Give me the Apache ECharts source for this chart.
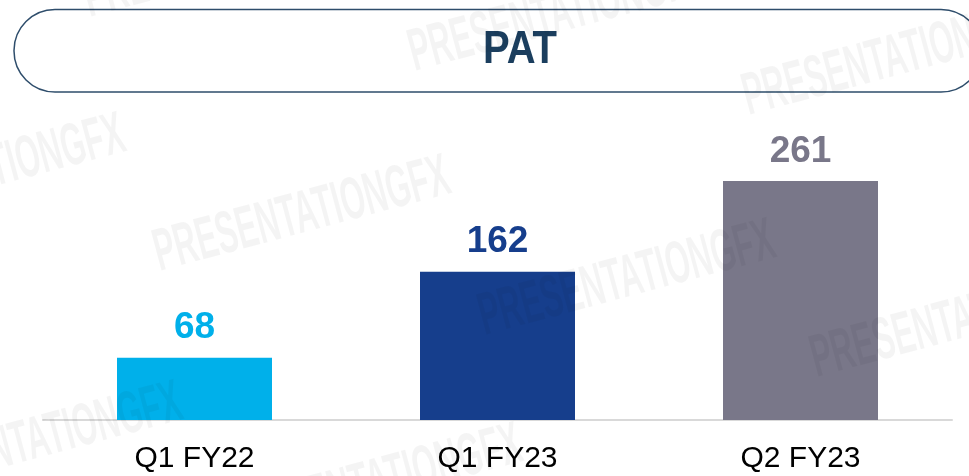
<!DOCTYPE html>
<html>
<head>
<meta charset="utf-8">
<script src="https://cdn.jsdelivr.net/npm/echarts@6/dist/echarts.min.js"></script>
<style>
html,body{margin:0;padding:0;background:#fff;}
#chart{width:969px;height:476px;}
</style>
</head>
<body>
<div id="chart"></div>
<script>
// ---- data ----
const title = 'PAT';
const categories = ['Q1 FY22', 'Q1 FY23', 'Q2 FY23'];
const values = [68, 162, 261];
const watermarkText = 'PRESENTATIONGFX';

// ---- styles ----
const palette = ['#00b0ea', '#163e8c', '#797789'];
const FONT = '"Liberation Sans", Arial, sans-serif';

const chart = echarts.init(document.getElementById('chart'), null, {renderer: 'canvas'});

const wmStarts = [
  [93, 30], [418, 84], [752, 128],
  [-162, 242], [163, 284], [488, 348], [820, 390],
  [-105, 510], [235, 552]
];
const wmRot = 15 * Math.PI / 180;
const watermarks = wmStarts.map(p => ({
  type: 'text',
  x: p[0], y: p[1],
  rotation: wmRot,
  scaleX: 0.52,
  z: 100,
  silent: true,
  style: {
    text: watermarkText,
    font: 'bold 60px ' + FONT,
    fill: 'rgba(0,0,0,0.045)',
    align: 'left',
    verticalAlign: 'bottom'
  }
}));

chart.setOption({
  animation: false,
  backgroundColor: '#ffffff',
  grid: {left: 43, right: 17, top: 145.3, bottom: 56, containLabel: false},
  xAxis: {
    type: 'category',
    data: categories,
    axisLine: {show: true, lineStyle: {color: '#d9d9d9', width: 2}},
    axisTick: {show: false},
    axisLabel: {color: '#000000', fontSize: 30, fontFamily: FONT, margin: 24}
  },
  yAxis: {
    type: 'value', min: 0, max: 300, show: false,
    splitLine: {show: false}
  },
  series: [{
    type: 'bar',
    barWidth: 155,
    data: values.map((v, i) => ({
      value: v,
      itemStyle: {color: palette[i]},
      label: {color: palette[i]}
    })),
    label: {
      show: true,
      position: 'top',
      distance: 11,
      fontSize: 37,
      fontWeight: 'bold',
      fontFamily: FONT
    }
  }],
  graphic: [
    {
      type: 'rect',
      shape: {x: 14, y: 9.5, width: 968, height: 82.5, r: 41},
      style: {fill: 'none', stroke: '#2e4d6b', lineWidth: 1.5},
      z: 10
    },
    {
      type: 'text',
      x: 520, y: 50,
      scaleY: 1.15,
      z: 11,
      style: {
        text: title,
        font: 'bold 40px ' + FONT,
        fill: '#1b3e5e',
        align: 'center',
        verticalAlign: 'middle'
      }
    }
  ].concat(watermarks)
});
</script>
</body>
</html>
